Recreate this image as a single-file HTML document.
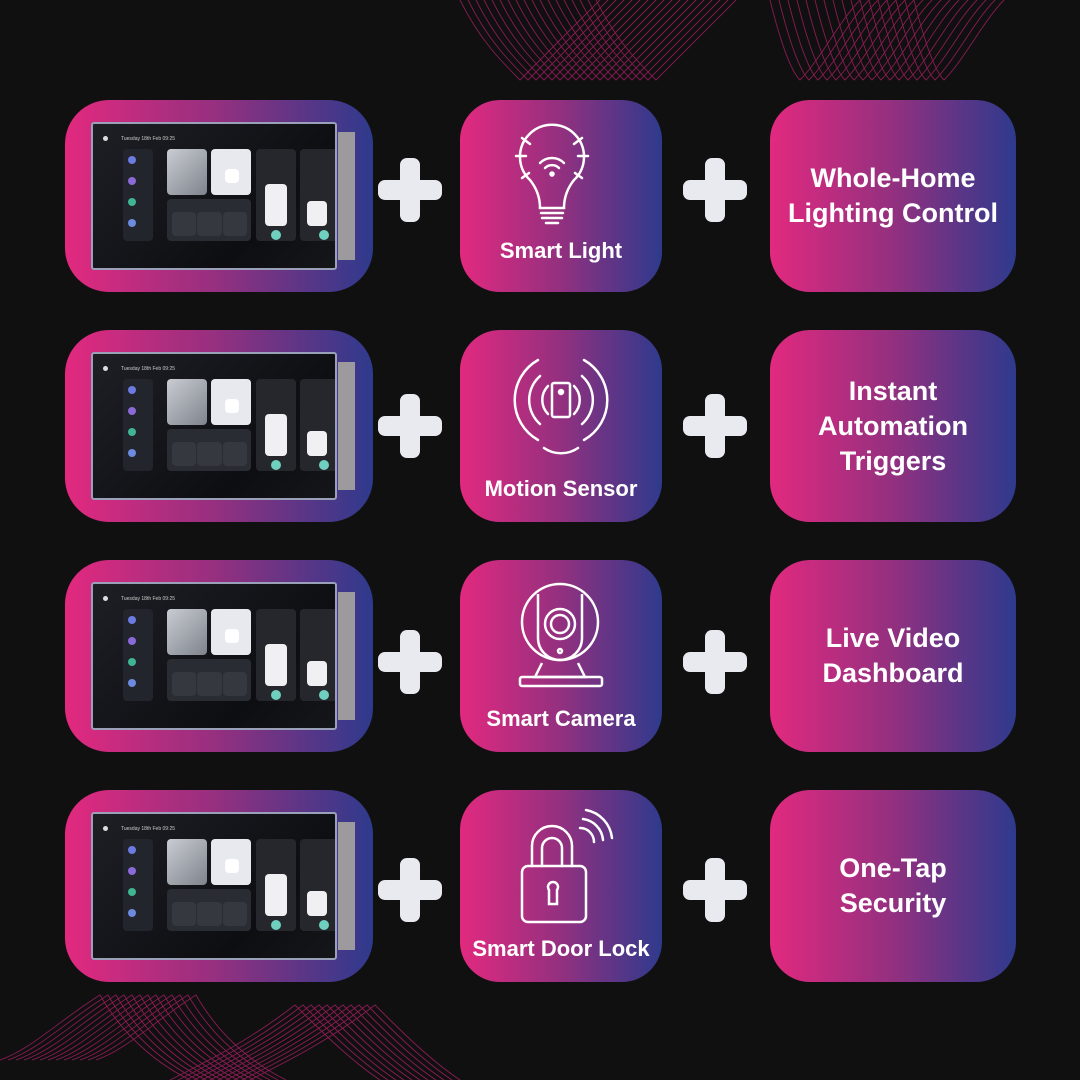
<!DOCTYPE html>
<html><head><meta charset="utf-8"><style>
body{margin:0;width:1080px;height:1080px;background:#111011;position:relative;overflow:hidden;font-family:"Liberation Sans",sans-serif;}
.a{position:absolute;}
.g{background:linear-gradient(90deg,#e2297f 0%,#93307f 50%,#2e3a8d 100%);}
.lc{left:65px;width:308px;height:192px;border-radius:44px;}
.mc{left:460px;width:202px;height:192px;border-radius:40px;}
.rc{left:770px;width:246px;height:192px;border-radius:40px;display:flex;align-items:center;justify-content:center;text-align:center;color:#fff;font-weight:bold;font-size:27px;line-height:35px;}
.pl{width:64px;height:64px;}
.pl:before,.pl:after{content:"";position:absolute;background:#e8eaf0;border-radius:7px;}
.pl:before{left:22px;top:0;width:20px;height:64px;}
.pl:after{left:0;top:22px;width:64px;height:20px;}
.lab{position:absolute;left:0;width:202px;text-align:center;color:#fff;font-weight:bold;font-size:22px;white-space:nowrap;}
.scr{left:26px;top:22px;width:246px;height:148px;background:linear-gradient(135deg,#1e1f25,#0d0e12 70%,#15161a);border:2px solid #9aa0b8;border-radius:3px;box-sizing:border-box;overflow:hidden;}
.side{left:273px;top:32px;width:17px;height:128px;background:#9c9a9c;}
.t{position:absolute;border-radius:4px;}
.dot{position:absolute;width:8px;height:8px;border-radius:50%;}
.tx{position:absolute;color:#aaa;font-size:5px;}
</style></head><body>
<svg class="a" style="left:0;top:0" width="1080" height="1080">
<g fill="none" stroke="#b0206a" stroke-width="0.9" opacity="0.75">
<path id="w1" d="M460 0 C480 40,500 60,520 80 C540 60,560 40,600 0"/>
<use href="#w1" x="8"/><use href="#w1" x="16"/><use href="#w1" x="24"/><use href="#w1" x="32"/><use href="#w1" x="40"/><use href="#w1" x="48"/><use href="#w1" x="56"/><use href="#w1" x="64"/><use href="#w1" x="72"/><use href="#w1" x="80"/><use href="#w1" x="88"/><use href="#w1" x="96"/><use href="#w1" x="104"/><use href="#w1" x="112"/><use href="#w1" x="120"/><use href="#w1" x="128"/><use href="#w1" x="136"/>
<path id="w2" d="M770 0 C780 40,790 70,800 80 C820 60,840 20,860 0"/>
<use href="#w2" x="9"/><use href="#w2" x="18"/><use href="#w2" x="27"/><use href="#w2" x="36"/><use href="#w2" x="45"/><use href="#w2" x="54"/><use href="#w2" x="63"/><use href="#w2" x="72"/><use href="#w2" x="81"/><use href="#w2" x="90"/><use href="#w2" x="99"/><use href="#w2" x="108"/><use href="#w2" x="117"/><use href="#w2" x="126"/><use href="#w2" x="135"/><use href="#w2" x="144"/>
<path id="w3" d="M0 1060 C30 1050,60 1020,100 995 C120 1030,150 1060,190 1080"/>
<use href="#w3" x="8"/><use href="#w3" x="16"/><use href="#w3" x="24"/><use href="#w3" x="32"/><use href="#w3" x="40"/><use href="#w3" x="48"/><use href="#w3" x="56"/><use href="#w3" x="64"/><use href="#w3" x="72"/><use href="#w3" x="80"/><use href="#w3" x="88"/><use href="#w3" x="96"/>
<path id="w4" d="M250 1080 C290 1060,330 1040,375 1005 C400 1030,430 1060,460 1080"/>
<use href="#w4" x="-8"/><use href="#w4" x="-16"/><use href="#w4" x="-24"/><use href="#w4" x="-32"/><use href="#w4" x="-40"/><use href="#w4" x="-48"/><use href="#w4" x="-56"/><use href="#w4" x="-64"/><use href="#w4" x="-72"/><use href="#w4" x="-80"/>
</g></svg>

<div class="a g lc" style="top:100px"></div>
<div class="a g lc" style="top:330px"></div>
<div class="a g lc" style="top:560px"></div>
<div class="a g lc" style="top:790px"></div>

<div id="tabs"></div>
<script>
var rows=[100,330,560,790];
var h='';
rows.forEach(function(y){
h+='<div class="a" style="left:65px;top:'+y+'px;width:308px;height:192px">'+
'<div class="a side"></div>'+
'<div class="a scr">'+
'<div class="tx" style="left:28px;top:12px;color:#ccc">Tuesday 18th Feb 09:25</div>'+
'<div class="dot" style="left:10px;top:12px;width:5px;height:5px;background:#ddd"></div>'+
'<div class="t" style="left:30px;top:25px;width:30px;height:92px;background:#23252c"></div>'+
'<div class="dot" style="left:35px;top:32px;background:#6b7be0"></div>'+
'<div class="dot" style="left:35px;top:53px;background:#8a6ad8"></div>'+
'<div class="dot" style="left:35px;top:74px;background:#3fb592"></div>'+
'<div class="dot" style="left:35px;top:95px;background:#6c8ae0"></div>'+
'<div class="t" style="left:74px;top:25px;width:40px;height:46px;background:linear-gradient(135deg,#c9ccd2,#7f848c)"></div>'+
'<div class="t" style="left:118px;top:25px;width:40px;height:46px;background:#e8e9ee"></div>'+
'<div class="t" style="left:132px;top:45px;width:14px;height:14px;background:#fff"></div>'+
'<div class="t" style="left:74px;top:75px;width:84px;height:42px;background:#2a2c33"></div>'+
'<div class="t" style="left:79px;top:88px;width:24px;height:24px;background:#363840"></div>'+
'<div class="t" style="left:104px;top:88px;width:25px;height:24px;background:#363840"></div>'+
'<div class="t" style="left:130px;top:88px;width:24px;height:24px;background:#363840"></div>'+
'<div class="t" style="left:163px;top:25px;width:40px;height:92px;background:#25272d"></div>'+
'<div class="t" style="left:172px;top:60px;width:22px;height:42px;background:#f0f0f2"></div>'+
'<div class="dot" style="left:178px;top:106px;width:10px;height:10px;background:#6fd0c0"></div>'+
'<div class="t" style="left:207px;top:25px;width:40px;height:92px;background:#25272d"></div>'+
'<div class="t" style="left:214px;top:77px;width:20px;height:25px;background:#f0f0f2"></div>'+
'<div class="dot" style="left:226px;top:106px;width:10px;height:10px;background:#6fd0c0"></div>'+
'</div></div>';
});
document.getElementById('tabs').innerHTML=h;
</script>

<div class="a pl" style="left:378px;top:158px"></div><div class="a pl" style="left:683px;top:158px"></div>
<div class="a pl" style="left:378px;top:394px"></div><div class="a pl" style="left:683px;top:394px"></div>
<div class="a pl" style="left:378px;top:630px"></div><div class="a pl" style="left:683px;top:630px"></div>
<div class="a pl" style="left:378px;top:858px"></div><div class="a pl" style="left:683px;top:858px"></div>

<div class="a g mc" style="top:100px">
<svg class="a" style="left:0;top:0" width="202" height="192" fill="none" stroke="#fff" stroke-width="2.5" stroke-linecap="round">
<path d="M70 80 A32 32 0 1 1 114 80 C106 90,104 100,104 108 L80 108 C80 100,78 90,70 80Z"/>
<path d="M81 113 H103 M82 118 H102 M86 123 H98"/>
<path d="M80 63 A17 17 0 0 1 104 63 M85 68 A10 10 0 0 1 99 68"/><circle cx="92" cy="74" r="1.5" fill="#fff"/>
<path d="M56 56 H66 M118 56 H128 M62 38 L70 44 M122 38 L114 44 M62 78 L69 73 M122 78 L115 73"/>
</svg>
<div class="lab" style="top:138px">Smart Light</div></div>

<div class="a g mc" style="top:330px">
<svg class="a" style="left:0;top:0" width="202" height="192" fill="none" stroke="#fff" stroke-width="2.5" stroke-linecap="round">
<rect x="92" y="53" width="18" height="34" rx="2"/><circle cx="101" cy="62" r="2" fill="#fff"/>
<path d="M114 56 A20 20 0 0 1 114 84 M88 56 A20 20 0 0 0 88 84"/>
<path d="M122 46 A32 32 0 0 1 122 94 M80 46 A32 32 0 0 0 80 94"/>
<path d="M124 30 A46 46 0 0 1 124 110 M78 30 A46 46 0 0 0 78 110"/>
<path d="M84 118 A30 30 0 0 0 118 118"/>
</svg>
<div class="lab" style="top:146px">Motion Sensor</div></div>

<div class="a g mc" style="top:560px">
<svg class="a" style="left:0;top:0" width="202" height="192" fill="none" stroke="#fff" stroke-width="2.5">
<circle cx="100" cy="62" r="38"/><path d="M78 34 V78 A22 22 0 0 0 122 78 V34"/>
<circle cx="100" cy="64" r="15"/><circle cx="100" cy="64" r="9"/><circle cx="100" cy="91" r="2"/>
<path d="M82 103 L75 117 H125 L118 103"/><rect x="60" y="117" width="82" height="9" rx="2"/>
</svg>
<div class="lab" style="top:146px">Smart Camera</div></div>

<div class="a g mc" style="top:790px">
<svg class="a" style="left:0;top:0" width="202" height="192" fill="none" stroke="#fff" stroke-width="2.5" stroke-linecap="round">
<path d="M72 76 V56 A20 20 0 0 1 112 56 V76 M82 76 V58 A10 10 0 0 1 102 58 V76"/>
<rect x="62" y="76" width="64" height="56" rx="6"/>
<path d="M89 100 A5 5 0 1 1 97 100 L97 114 H89 Z"/>
<path d="M120 38 A14 14 0 0 1 134 52 M123 29 A23 23 0 0 1 143 50 M126 20 A32 32 0 0 1 152 48"/>
</svg>
<div class="lab" style="top:146px">Smart Door Lock</div></div>

<div class="a g rc" style="top:100px">Whole-Home<br>Lighting Control</div>
<div class="a g rc" style="top:330px">Instant<br>Automation<br>Triggers</div>
<div class="a g rc" style="top:560px">Live Video<br>Dashboard</div>
<div class="a g rc" style="top:790px">One-Tap<br>Security</div>
</body></html>
